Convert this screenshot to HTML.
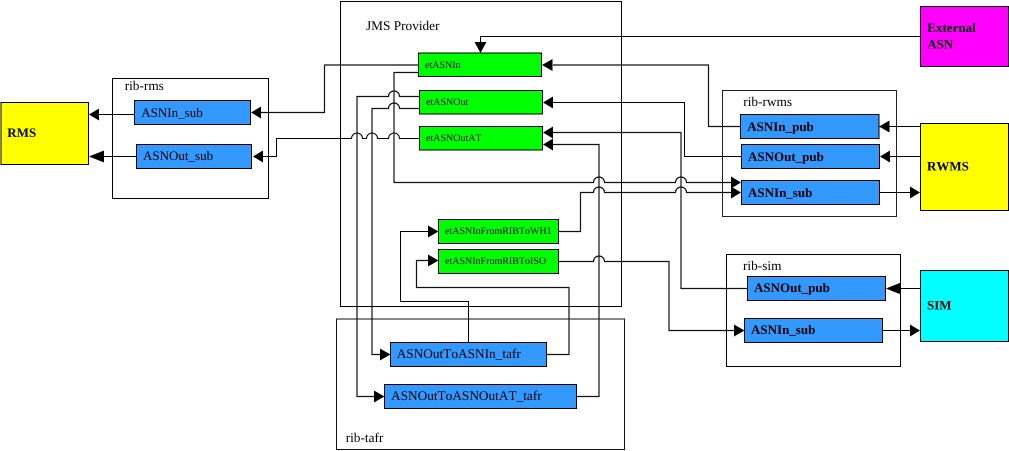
<!DOCTYPE html>
<html><head><meta charset="utf-8"><style>
html,body{margin:0;padding:0;background:#fff;width:1009px;height:451px;overflow:hidden}
svg{display:block}
text{font-family:"Liberation Serif",serif;fill:#000;text-rendering:geometricPrecision;font-kerning:none}
.b{font-weight:bold}
.c{fill:none;stroke:#000;stroke-width:1}
.g{fill:none;stroke:#111;stroke-width:1.2}
.r{stroke:#000;stroke-width:1}
</style></head><body>
<svg width="1009" height="451" viewBox="0 0 1009 451" xmlns="http://www.w3.org/2000/svg">
<rect width="1009" height="451" fill="#fff"/>
<!-- containers -->
<g fill="none" stroke="#000">
<rect x="340.5" y="1.5" width="281" height="305"/>
<rect x="112.5" y="78.5" width="156" height="120"/>
<rect x="722.5" y="90.5" width="174" height="126" stroke="#222"/>
<rect x="726.5" y="254.5" width="174" height="112"/>
<rect x="336.5" y="319" width="288" height="130.5" stroke="#111"/>
</g>
<!-- actors -->
<rect class="r" x="1" y="102.5" width="87.5" height="62" fill="#ffff00"/>
<rect class="r" x="920.5" y="6.5" width="88" height="60" fill="#ff00ff"/>
<rect class="r" x="920.5" y="123.5" width="88" height="87" fill="#ffff00"/>
<rect class="r" x="920.5" y="270.5" width="88" height="71" fill="#00ffff"/>
<!-- green -->
<g fill="#00ff00" class="r">
<rect x="418.5" y="53" width="123" height="23.5"/>
<rect x="419.5" y="90.5" width="123" height="23.5"/>
<rect x="419.5" y="126.5" width="123" height="23.5"/>
<rect x="438.5" y="219.5" width="120" height="24"/>
<rect x="438.5" y="249.5" width="120" height="24"/>
</g>
<!-- blue -->
<g fill="#3399ff" class="r">
<rect x="134.5" y="100.5" width="116" height="24"/>
<rect x="136.5" y="144.5" width="115" height="24"/>
<rect x="740.5" y="114.5" width="138.5" height="24"/>
<rect x="741.5" y="144.5" width="138" height="24"/>
<rect x="741.5" y="180.5" width="138" height="24"/>
<rect x="747.5" y="276.5" width="138" height="24"/>
<rect x="744.5" y="318.5" width="138" height="24"/>
<rect x="390.5" y="342.5" width="156" height="24"/>
<rect x="384.5" y="384.5" width="192" height="24"/>
</g>
<!-- connectors -->
<g class="c">
<path d="M921 36.5H480.5V43"/>
<path class="g" d="M418 65H324.5V112.5H260"/>
<path d="M134 114.5H99"/>
<path d="M136 156.5H104"/>
<path d="M419 138.5H399.5a5 5 0 0 0 -11 0H377.5a5 5 0 0 0 -11 0H362.5a5 5 0 0 0 -11 0H276.5V156.5H263"/>
<path class="g" d="M419 96.5H399.5a5 5 0 0 0 -11 0H357V396.5H374"/>
<path class="g" d="M419 108.5H399.5a5 5 0 0 0 -11 0H372V354.5H380"/>
<path class="g" d="M419 72.5H394V182.5H593.5a5 5 0 0 1 11 0H675.5a5 5 0 0 1 11 0H731"/>
<path class="g" d="M559 231.5H580.5V192.5H593.5a5 5 0 0 1 11 0H675.5a5 5 0 0 1 11 0H731"/>
<path class="g" d="M559 261.5H593.5a5 5 0 0 1 11 0H669V330.5H734"/>
<path d="M553 65H708.5V126.5H741" class="g"/>
<path d="M553 102.5H684.5V156.5H742"/>
<path class="g" d="M553 132.5H681V288.5H748"/>
<path class="g" d="M553 144.5H599V396.5H577"/>
<path d="M428 231.5H400.5V301.5H468.5V342"/>
<path class="g" d="M428 260.5H416.5V287.5H569V354.5H547"/>
<path d="M921 126.5H889"/>
<path d="M921 156.5H890"/>
<path d="M880 192.5H911"/>
<path d="M921 288.5H900"/>
<path d="M883 330.5H911"/>
</g>
<!-- arrowheads -->
<g fill="#000">
<path d="M480.5 53L474.5 42H486.5Z"/>
<path d="M542 65L552.5 59V71Z"/>
<path d="M543 102.5L553 96.5V108.5Z"/>
<path d="M543 132.5L553 126.5V138.5Z"/>
<path d="M543 144.5L553 138.5V150.5Z"/>
<path d="M251 112.5L261 106.5V118.5Z"/>
<path d="M253 156.5L263 150.5V162.5Z"/>
<path d="M89 114.5L99 108.5V120.5Z"/>
<path d="M89 156.5L104 150.5V162.5Z"/>
<path d="M741 182.5L731 176.5V188.5Z"/>
<path d="M741 192.5L731 186.5V198.5Z"/>
<path d="M744.5 330.5L734 324.5V336.5Z"/>
<path d="M879 126.5L889.5 120.5V132.5Z"/>
<path d="M880 156.5L890 150.5V162.5Z"/>
<path d="M920 192.5L910 186.5V198.5Z"/>
<path d="M886 288.5L901 282.5V294.5Z"/>
<path d="M920 330.5L910 324.5V336.5Z"/>
<path d="M438.5 231.5L428 225.5V237.5Z"/>
<path d="M438.5 260.5L428 254.5V266.5Z"/>
<path d="M390.5 354.5L380 348.5V360.5Z"/>
<path d="M384.5 396.5L374 390.5V402.5Z"/>
</g>
<!-- labels -->
<g font-size="13.3">
<text x="366" y="30">JMS Provider</text>
<text x="124.7" y="90">rib-rms</text>
<text x="743.3" y="106">rib-rwms</text>
<text x="743" y="270">rib-sim</text>
<text x="345.7" y="442">rib-tafr</text>
</g>
<g font-size="10">
<text x="425" y="68">etASNIn</text>
<text x="426" y="105">etASNOut</text>
<text x="426" y="141">etASNOutAT</text>
<text x="445" y="234">etASNInFromRIBToWH1</text>
<text x="445" y="264">etASNInFromRIBToISO</text>
</g>
<g font-size="13">
<text x="141.3" y="117">ASNIn_sub</text>
<text x="143" y="160">ASNOut_sub</text>
</g>
<g font-size="13.3">
<text x="396.7" y="358">ASNOutToASNIn_tafr</text>
<text x="391" y="400">ASNOutToASNOutAT_tafr</text>
</g>
<g font-size="13" class="b">
<text x="747.3" y="131">ASNIn_pub</text>
<text x="748" y="161">ASNOut_pub</text>
<text x="748" y="197">ASNIn_sub</text>
<text x="754" y="292">ASNOut_pub</text>
<text x="751" y="334">ASNIn_sub</text>
<text x="7.3" y="137">RMS</text>
<text x="927.3" y="32">External</text>
<text x="927.3" y="48.5">ASN</text>
<text x="927" y="170.5">RWMS</text>
<text x="927" y="309.5">SIM</text>
</g>
</svg>
</body></html>
